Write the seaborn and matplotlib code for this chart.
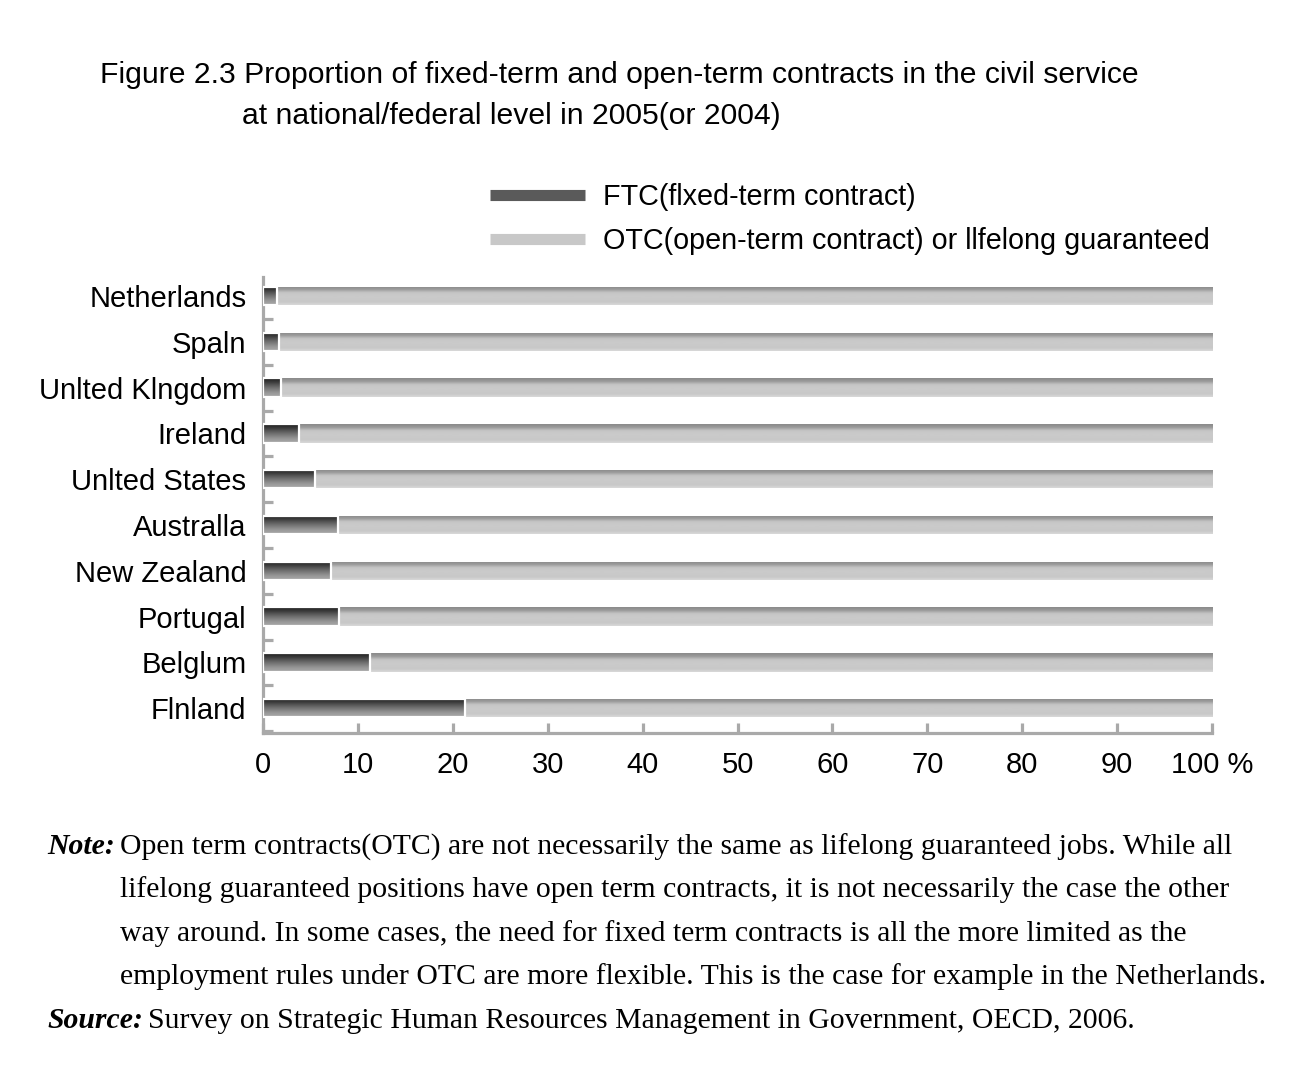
import numpy as np
import pandas as pd
import matplotlib
matplotlib.use("Agg")
import matplotlib.pyplot as plt
from matplotlib.lines import Line2D
from matplotlib.colors import to_rgb
import seaborn as sns

countries = ["Netherlands", "Spaln", "Unlted Klngdom", "Ireland", "Unlted States",
             "Australla", "New Zealand", "Portugal", "Belglum", "Flnland"]
ftc = [1.5, 1.7, 1.9, 3.8, 5.5, 7.9, 7.2, 8.0, 11.3, 21.3]
otc = [98.5, 98.3, 98.1, 96.2, 94.5, 92.1, 92.8, 92.0, 88.7, 78.7]
xticks = [0, 10, 20, 30, 40, 50, 60, 70, 80, 90, 100]
xticklabels = ["0", "10", "20", "30", "40", "50", "60", "70", "80", "90", "100 %"]

title1 = "Figure 2.3 Proportion of fixed-term and open-term contracts in the civil service"
title2 = "at national/federal level in 2005(or 2004)"
leg1 = "FTC(flxed-term contract)"
leg2 = "OTC(open-term contract) or llfelong guaranteed"
note_lines = [
    "Open term contracts(OTC) are not necessarily the same as lifelong guaranteed jobs. While all",
    "lifelong guaranteed positions have open term contracts, it is not necessarily the case the other",
    "way around. In some cases, the need for fixed term contracts is all the more limited as the",
    "employment rules under OTC are more flexible. This is the case for example in the Netherlands.",
]
source_text = "Survey on Strategic Human Resources Management in Government, OECD, 2006."

df = pd.DataFrame({"country": countries, "FTC": ftc, "OTC": otc})
df["cum"] = df["FTC"] + df["OTC"]

sns.set_theme(style="white")
plt.rcParams["font.family"] = ["Liberation Sans", "DejaVu Sans"]
plt.rcParams["text.color"] = "black"

W, H = 1299, 1091
fig = plt.figure(figsize=(W / 100, H / 100), dpi=100)
ax = fig.add_axes([263 / W, 1 - 733 / H, (1215 - 263) / W, (733 - 277) / H])

sns.barplot(data=df, y="country", x="cum", color="#c8c8c8", width=0.40,
            orient="h", ax=ax, saturation=1)
n_otc = len(ax.patches)
sns.barplot(data=df, y="country", x="FTC", color="#555555", width=0.40,
            orient="h", ax=ax, saturation=1)

def grad(cols, n=60):
    stops = np.linspace(0, 1, len(cols))
    rgb = np.array([to_rgb(c) for c in cols])
    t = np.linspace(0, 1, n)
    arr = np.stack([np.interp(t, stops, rgb[:, k]) for k in range(3)], axis=1)
    return arr[:, None, :]

otc_img = grad(["#8a8a8a", "#9a9a9a", "#c4c4c4", "#cacaca", "#cacaca", "#c8c8c8", "#d8d8d8"])
ftc_img = grad(["#1e1e1e", "#3a3a3a", "#5e5e5e", "#7e7e7e", "#9a9a9a", "#a8a8a8"])

for i, p in enumerate(list(ax.patches)):
    x0, y0, w, h = p.get_x(), p.get_y(), p.get_width(), p.get_height()
    is_ftc = i >= n_otc
    img = ftc_img if is_ftc else otc_img
    im = ax.imshow(img, extent=[x0, x0 + w, y0 + h, y0], origin="upper",
                   aspect="auto", zorder=3 if is_ftc else 2, interpolation="bilinear")
    im.set_clip_path(p)
    p.set_facecolor("none")
    if is_ftc:
        p.set_edgecolor("white")
        p.set_linewidth(1.6)
        p.set_zorder(4)
    else:
        p.set_edgecolor("none")

axis_gray = "#a9a9a9"
ax.set_xlim(0, 100.3)
ax.set_ylim(9.54, -0.415)
ax.set_xticks(xticks)
ax.set_xticklabels(xticklabels)
ax.set_xlabel("")
ax.set_ylabel("")
for s in ["top", "right"]:
    ax.spines[s].set_visible(False)
for s in ["left", "bottom"]:
    ax.spines[s].set_color(axis_gray)
    ax.spines[s].set_linewidth(2.3)
ax.spines["bottom"].set_bounds(0, 100)
ax.tick_params(axis="x", which="major", bottom=True, direction="in", length=7, width=2.3,
               color=axis_gray, labelsize=21, pad=13, labelcolor="black")
ax.tick_params(axis="y", which="major", left=True, length=0, labelsize=21, pad=12,
               labelcolor="black")
ax.set_yticks(np.arange(len(countries)) + 0.5, minor=True)
ax.tick_params(axis="y", which="minor", left=True, direction="in", length=7, width=2.3,
               color=axis_gray)

handles = [Line2D([0], [0], color="#5a5a5a", lw=8, solid_capstyle="butt"),
           Line2D([0], [0], color="#c8c8c8", lw=8, solid_capstyle="butt")]
fig.legend(handles, [leg1, leg2], loc="center left",
           bbox_to_anchor=(490 / W, 1 - 219 / H), frameon=False, fontsize=20.7,
           handlelength=3.3, handletextpad=0.62, labelspacing=0.55, borderaxespad=0,
           borderpad=0, labelcolor="black")

fig.text(100 / W, 1 - 75 / H, title1, fontsize=21.7, ha="left", va="center")
fig.text(242 / W, 1 - 116 / H, title2, fontsize=21.7, ha="left", va="center")

serif = ["Liberation Serif", "DejaVu Serif"]
fs = 21.4
ys = [847, 890, 934, 977]
fig.text(47 / W, 1 - ys[0] / H, "Note:", fontsize=fs, family=serif, style="italic",
         weight="bold", ha="left", va="center")
for y, line in zip(ys, note_lines):
    fig.text(120 / W, 1 - y / H, line, fontsize=fs, family=serif, ha="left", va="center")
fig.text(47 / W, 1 - 1021 / H, "Source:", fontsize=fs, family=serif, style="italic",
         weight="bold", ha="left", va="center")
fig.text(148 / W, 1 - 1021 / H, source_text, fontsize=fs, family=serif, ha="left", va="center")

fig.savefig("out.png", dpi=100, facecolor="white")
